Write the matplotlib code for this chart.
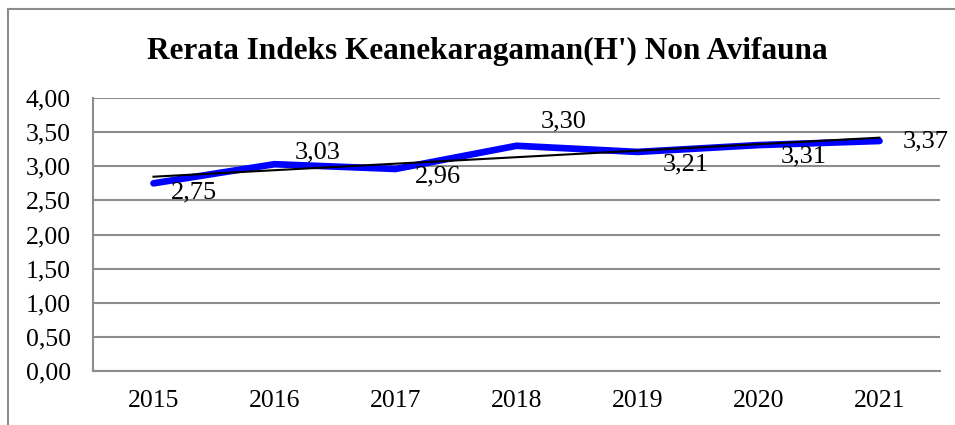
import numpy as np
import matplotlib
matplotlib.use('Agg')
import matplotlib.pyplot as plt
from matplotlib.lines import Line2D

# Data
years = ['2015', '2016', '2017', '2018', '2019', '2020', '2021']
h_index = [2.75, 3.03, 2.96, 3.30, 3.21, 3.31, 3.37]
y_ticks = [0.0, 0.5, 1.0, 1.5, 2.0, 2.5, 3.0, 3.5, 4.0]

# label offsets in pixels (dx, dy)
label_offsets = [(40, -9), (43, 12), (42, -7), (47, 24), (48, -13), (45, -11), (46, 0)]

plt.rcParams['font.family'] = ['Liberation Serif', 'DejaVu Serif']

fig = plt.figure(figsize=(9.55, 4.25), dpi=100)
W, H = 955, 425
ax = fig.add_axes([93 / W, (H - 371) / H, (940 - 93) / W, (371 - 98) / H])

x = np.arange(len(years))
ax.plot(x, h_index, color='#0000ff', linewidth=4.8, solid_capstyle='round', zorder=3)

# linear trendline
coef = np.polyfit(x, h_index, 1)
ax.plot(x, np.polyval(coef, x), color='black', linewidth=1.5, zorder=4)

for xi, val, (dx, dy) in zip(x, h_index, label_offsets):
    ax.annotate(f'{val:.2f}'.replace('.', ','), (xi, val), xytext=(dx, dy),
                textcoords='offset pixels', ha='center', va='center',
                fontsize=19, zorder=5)

ax.set_xlim(-0.5, len(years) - 0.5)
ax.set_ylim(0, 4)
ax.set_xticks(x)
ax.set_xticklabels(years)
ax.set_yticks(y_ticks)
ax.set_yticklabels([f'{v:.2f}'.replace('.', ',') for v in y_ticks])
ax.tick_params(axis='both', length=0, labelsize=18.5)
ax.tick_params(axis='y', pad=16)
ax.tick_params(axis='x', pad=14)

ax.grid(axis='y', color='#8c8c8c', linewidth=1.5)
ax.set_axisbelow(True)
for s in ['top', 'right']:
    ax.spines[s].set_visible(False)
for s in ['left', 'bottom']:
    ax.spines[s].set_color('#8c8c8c')
    ax.spines[s].set_linewidth(1.5)

fig.text(487 / W, 1 - 51 / H, "Rerata Indeks Keanekaragaman(H') Non Avifauna",
         ha='center', va='center', fontsize=22.5, fontweight='bold')

# outer chart frame
fig.add_artist(Line2D([8 / W, 1.01], [1 - 9 / H, 1 - 9 / H], transform=fig.transFigure,
                      color='#8c8c8c', linewidth=1.5))
fig.add_artist(Line2D([8 / W, 8 / W], [-0.01, 1 - 9 / H], transform=fig.transFigure,
                      color='#8c8c8c', linewidth=1.5))

fig.savefig('out.png', dpi=100)
